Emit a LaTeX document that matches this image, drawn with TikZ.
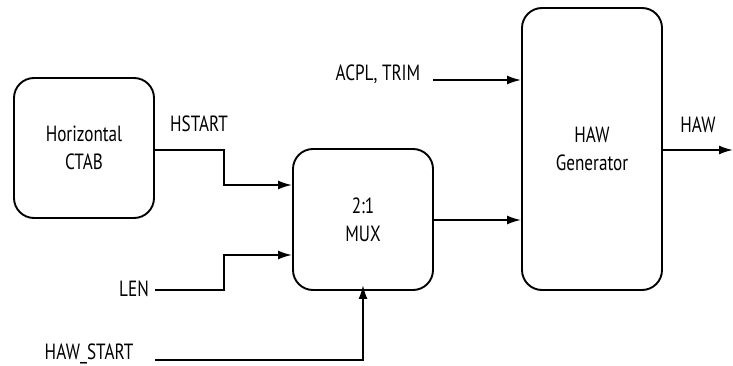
\documentclass[tikz,border=0pt]{standalone}
\usepackage{fontspec}
\setmainfont[FakeStretch=0.78]{PT Sans}
\usetikzlibrary{arrows.meta}
\begin{document}
\begin{tikzpicture}[x=1pt,y=-1pt,
  blk/.style={draw,line width=1.9pt,rounded corners=20pt,align=center,font=\fontsize{22}{28}\selectfont,inner sep=0pt},
  lbl/.style={font=\fontsize{22}{24}\selectfont,inner sep=0pt},
  wire/.style={line width=1.9pt},
  arr/.style={wire,-{Latex[length=14pt,width=9pt]}}]
\useasboundingbox (0,0) rectangle (733,366);
\node[blk,minimum width=140pt,minimum height=140pt] (ctab) at (84,148) {Horizontal\\CTAB};
\node[blk,minimum width=140pt,minimum height=141pt] (mux) at (363,219.5) {2:1\\MUX};
\node[blk,minimum width=140pt,minimum height=282pt] (haw) at (592,149) {HAW\\Generator};
\node[lbl] (hstart) at (199,124) {HSTART};
\node[lbl] (len) at (134,289) {LEN};
\node[lbl] (hawstart) at (89,354) {HAW\_START};
\node[lbl] (acpl) at (378,74) {ACPL, TRIM};
\node[lbl] (hawout) at (698,125) {HAW};
\coordinate (lenend) at (155,290);
\coordinate (hsend) at (155,360);
\coordinate (out) at (733,150);
\coordinate (acplstart) at (433,80);
\draw[arr] (ctab.east |- 0,150) -| (224,185) -- (mux.west |- 0,185);
\draw[arr] (lenend) -| (224,255) -- (mux.west |- 0,255);
\draw[arr] (hsend) -| ([yshift=6pt]mux.south);
\draw[arr] (mux.east |- 0,220) -- (haw.west |- 0,220);
\draw[arr] (acplstart) -- (haw.west |- acplstart);
\draw[arr] (haw.east |- out) -- (out);
\end{tikzpicture}
\end{document}
